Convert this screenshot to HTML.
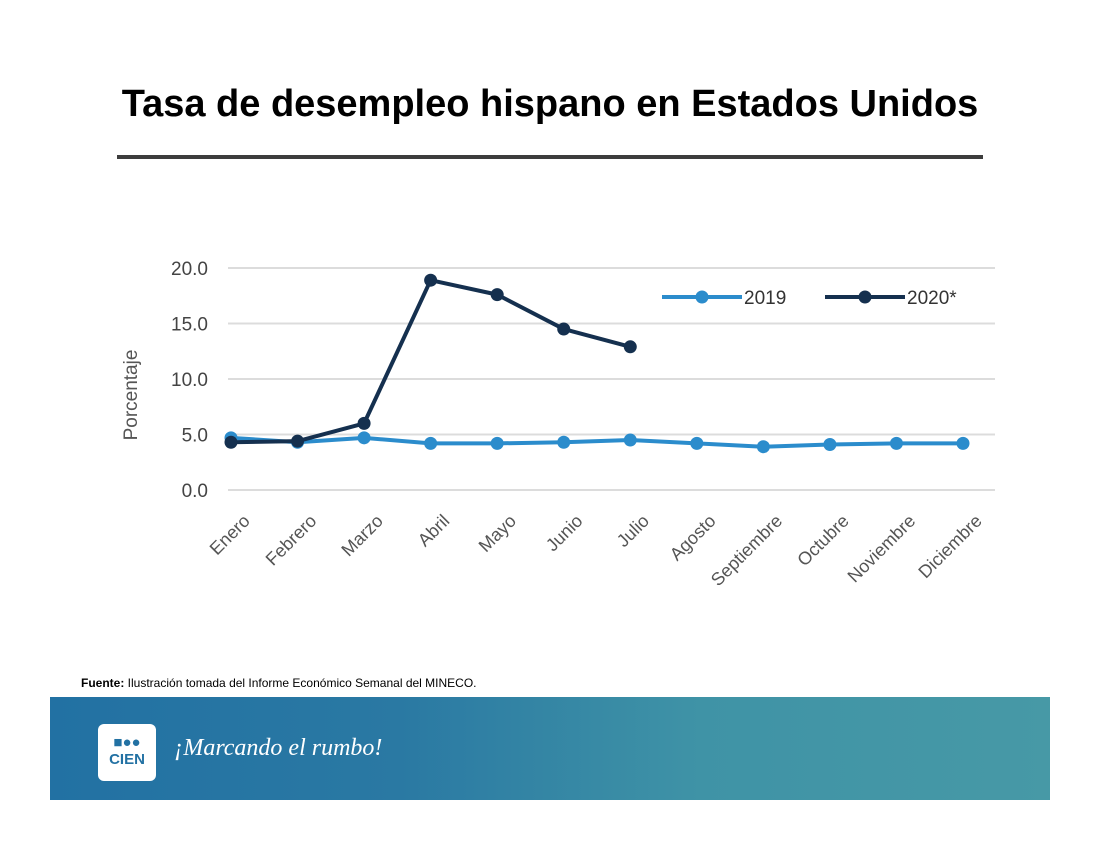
<!DOCTYPE html>
<html><head><meta charset="utf-8"><style>
body{margin:0;width:1100px;height:850px;background:#fff;position:relative;overflow:hidden;font-family:"Liberation Sans",sans-serif}
.title{position:absolute;left:0;width:1100px;top:83px;text-align:center;font-size:38px;font-weight:bold;color:#000}
.rule{position:absolute;left:117px;top:155px;width:866px;height:4px;background:#3d3d3d}
.src{position:absolute;left:81px;top:676px;font-size:12px;color:#000}
.band{position:absolute;left:50px;top:697px;width:1000px;height:103px;background:linear-gradient(90deg,#2271a3 0%,#2a79a3 35%,#3f93a6 65%,#4799a6 100%)}
.logo{position:absolute;left:48px;top:27px;width:58px;height:57px;background:#fff;border-radius:6px;color:#2271a3;font-weight:bold;font-size:15px;text-align:center;line-height:17px;padding-top:10px;box-sizing:border-box}
.slog{position:absolute;left:124px;top:38px;color:#fff;font-size:24px;font-style:italic;font-family:"Liberation Serif",serif}
</style></head><body>
<div class="title">Tasa de desempleo hispano en Estados Unidos</div>
<div class="rule"></div>
<svg id="c" width="1100" height="850" style="position:absolute;left:0;top:0"></svg>
<div class="src"><b>Fuente:</b> Ilustración tomada del Informe Económico Semanal del MINECO.</div>
<div class="band">
<div class="logo">■●●<br>CIEN</div>
<div class="slog">¡Marcando el rumbo!</div>
</div>
<script>
const months=["Enero","Febrero","Marzo","Abril","Mayo","Junio","Julio","Agosto","Septiembre","Octubre","Noviembre","Diciembre"];
const s2019=[4.7,4.3,4.7,4.2,4.2,4.3,4.5,4.2,3.9,4.1,4.2,4.2];
const s2020=[4.3,4.4,6.0,18.9,17.6,14.5,12.9];
const yTicks=[0,5,10,15,20];
const yLabels=["0.0","5.0","10.0","15.0","20.0"];
const NS="http://www.w3.org/2000/svg",svg=document.getElementById('c');
const x=i=>231+i*(963-231)/11, y=v=>490-v*(490-268)/20;
function mk(t,a,txt){const e=document.createElementNS(NS,t);for(const k in a)e.setAttribute(k,a[k]);if(txt!=null)e.textContent=txt;svg.appendChild(e);return e;}
yTicks.forEach((v,i)=>{
 const g=mk('line',{x1:228,x2:995,y1:y(v),y2:y(v),stroke:'#dcdcdc','stroke-width':2});
 
 
 const t=mk('text',{x:208,y:y(v)+7,'text-anchor':'end','font-size':19,fill:'#444'},yLabels[i]);
 
 
});
const yt=mk('text',{x:0,y:0,transform:'translate(137,395) rotate(-90)','text-anchor':'middle','font-size':19,fill:'#555'},'Porcentaje');


months.forEach((m,i)=>{
 const t=mk('text',{x:0,y:0,transform:`translate(${x(i)+20},${522}) rotate(-45)`,'text-anchor':'end','font-size':18,fill:'#555'},m);
 
 
});
function series(d,col,name){
 const p=mk('polyline',{points:d.map((v,i)=>x(i)+','+y(v)).join(' '),fill:'none',stroke:col,'stroke-width':4,'stroke-linejoin':'round'});
 
 
 d.forEach((v,i)=>{const c=mk('circle',{cx:x(i),cy:y(v),r:6.5,fill:col});
 
 });
}
series(s2019,'#2b8ccc','series-2019');
series(s2020,'#15304f','series-2020');
[[662,'#2b8ccc','2019'],[825,'#15304f','2020*']].forEach(([lx,c,l])=>{
 const ln=mk('line',{x1:lx,x2:lx+80,y1:297,y2:297,stroke:c,'stroke-width':4});
 
 
 mk('circle',{cx:lx+40,cy:297,r:6.5,fill:c});
 const t=mk('text',{x:lx+82,y:304,'font-size':19,fill:'#333'},l);
 
 
});
</script>
</body></html>
